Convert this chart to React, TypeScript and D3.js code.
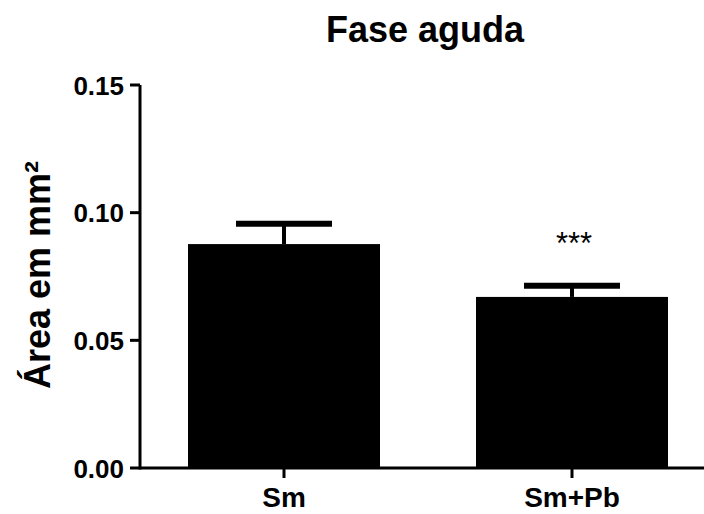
import React from "react";
import * as d3 from "d3";

const groups = ["Sm", "Sm+Pb"];
const means = [0.0877, 0.067];
const errTops = [0.0957, 0.0714];
const yTicks = [0, 0.05, 0.1, 0.15];
const marks = ["", "***"];

const W = 704, H = 514;
const FONT = "'Liberation Sans', Arial, Helvetica, sans-serif";

export default function App() {
  const x = d3.scaleBand().domain(groups).range([140, 716]).paddingInner(1 / 3).paddingOuter(1 / 6);
  const y = d3.scaleLinear().domain([0, 0.15]).range([468, 85]);
  const bw = x.bandwidth();

  return (
    <div style={{ position: "absolute", left: 0, top: 0 }}>
      <svg width={W} height={H} style={{ display: "block", background: "#fff" }} fontFamily={FONT}>
        <text x={425} y={42} textAnchor="middle" fontSize={36} fontWeight="bold">Fase aguda</text>
        <text transform={`translate(50,275) rotate(-90)`} textAnchor="middle" fontSize={36} fontWeight="bold">Área em mm²</text>

        {groups.map((g, i) => {
          const cx = x(g)! + bw / 2;
          return (
            <g key={g}>
              <rect x={x(g)} y={y(means[i])} width={bw} height={y(0) - y(means[i])} fill="#000" />
              <line x1={cx} x2={cx} y1={y(means[i])} y2={y(errTops[i])} stroke="#000" strokeWidth={4} />
              <line x1={cx - bw / 4} x2={cx + bw / 4} y1={y(errTops[i])} y2={y(errTops[i])} stroke="#000" strokeWidth={6} />
              {marks[i] && (
                <text x={cx + 2} y={y(errTops[i]) - 32} textAnchor="middle" fontSize={31}>{marks[i]}</text>
              )}
              <line x1={cx} x2={cx} y1={468} y2={478} stroke="#000" strokeWidth={3} />
              <text x={cx} y={507} textAnchor="middle" fontSize={28} fontWeight="bold">{g}</text>
            </g>
          );
        })}

        <line x1={140} x2={W} y1={468} y2={468} stroke="#000" strokeWidth={3} />
        <line x1={140} x2={140} y1={y(0.15)} y2={469.5} stroke="#000" strokeWidth={3} />
        {yTicks.map(t => (
          <g key={t}>
            <line x1={130} x2={140} y1={y(t)} y2={y(t)} stroke="#000" strokeWidth={3} />
            <text x={124} y={y(t) + 9.5} textAnchor="end" fontSize={26} fontWeight="bold">{d3.format(".2f")(t)}</text>
          </g>
        ))}
      </svg>
    </div>
  );
}
